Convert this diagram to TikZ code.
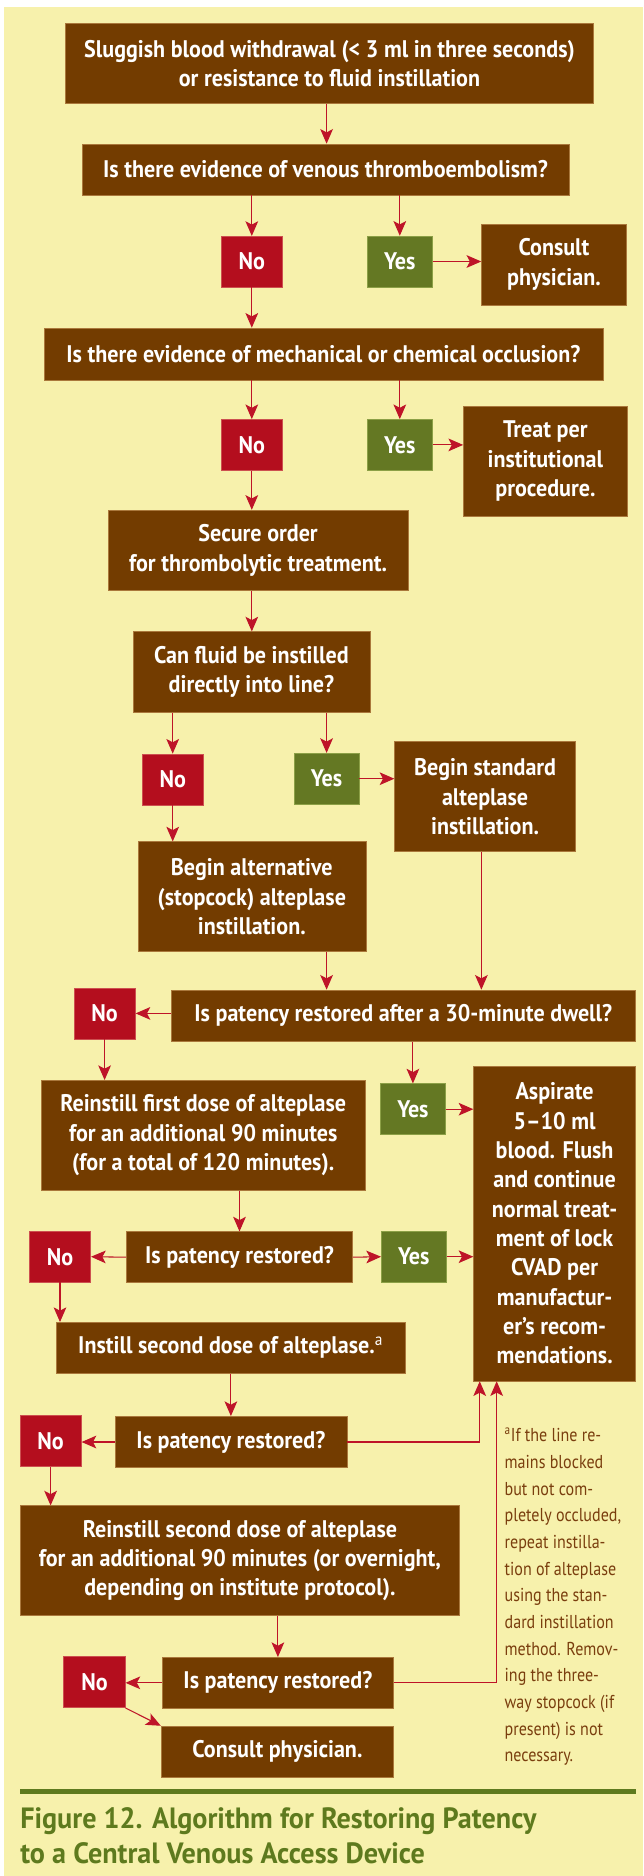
\documentclass[tikz,border=0pt]{standalone}
\usepackage{fontspec}
\setmainfont{PT Sans}[FakeStretch=0.86]
\newfontfamily\boxfam{PT Sans}[FakeStretch=0.92,Ligatures=TeX]
\newfontfamily\capfam{PT Sans}[FakeStretch=0.96,Ligatures=TeX]
\usetikzlibrary{arrows.meta,calc}
\definecolor{bgyellow}{RGB}{247,241,172}
\definecolor{brn}{RGB}{115,60,0}
\definecolor{brnedge}{RGB}{170,120,60}
\definecolor{nored}{RGB}{180,14,30}
\definecolor{rededge}{RGB}{205,80,80}
\definecolor{yesgreen}{RGB}{100,120,35}
\definecolor{greenedge}{RGB}{140,160,70}
\definecolor{arrred}{RGB}{190,20,40}
\definecolor{notebrown}{RGB}{122,62,14}
\definecolor{capgreen}{RGB}{94,122,30}
\newcommand\bxfont{\boxfam\bfseries\fontsize{18}{22}\selectfont}
\newcommand\ntfont{\fontsize{14}{20}\selectfont}
\newcommand\cpfont{\capfam\bfseries\fontsize{22}{26}\selectfont}
\begin{document}
\begin{tikzpicture}[x=0.75pt,y=-0.75pt,
  sz/.style 2 args={minimum width=#1*0.75pt, minimum height=#2*0.75pt},
  box/.style={fill=brn, draw=brnedge, line width=0.4pt, text=white, font=\bxfont, align=center, inner sep=0pt},
  nobox/.style={box, fill=nored, draw=rededge, sz={61.5}{51}},
  yesbox/.style={box, fill=yesgreen, draw=greenedge, sz={65}{51}},
  arr/.style={draw=arrred, line width=0.8pt, -{Stealth[length=11pt, width=9.5pt, inset=2.5pt]}},
  notetext/.style={anchor=base west, inner sep=0pt, text=notebrown, font=\ntfont},
  captext/.style={anchor=base west, inner sep=0pt, text=capgreen, font=\cpfont}]
\useasboundingbox (0,0) rectangle (643,1876);
\fill[white] (0,0) rectangle (643,1876);
\fill[bgyellow] (4,7) rectangle (643,1876);

% nodes
\node[box, sz={528}{80}] (top) at (329.5,63.3) {Sluggish blood withdrawal (< 3 ml in three seconds)\\or resistance to fluid instillation};
\node[box, sz={487}{51}] (venous) at (325.5,169.5) {Is there evidence of venous thromboembolism?};
\node[nobox] (no1) at (251.8,261.7) {No};
\node[yesbox] (yes1) at (399.8,261.5) {Yes};
\node[box, sz={145}{81}] (consult1) at (554,264.5) {Consult\\physician.};
\node[box, sz={559}{52}] (mech) at (323.4,354) {Is there evidence of mechanical or chemical occlusion?};
\node[nobox] (no2) at (251.8,444.9) {No};
\node[yesbox] (yes2) at (399.8,444.9) {Yes};
\node[box, sz={164}{110}] (treat) at (545.4,461) {Treat per\\institutional\\procedure.};
\node[box, sz={300.6}{80.7}] (secure) at (258.1,550.4) {Secure order\\for thrombolytic treatment.};
\node[box, sz={237}{81}] (can) at (251.4,672.2) {Can fluid be instilled\\directly into line?};
\node[nobox] (no3) at (172.7,779.4) {No};
\node[yesbox] (yes3) at (326.6,778.7) {Yes};
\node[box, sz={181}{110}] (standard) at (485.1,796.7) {Begin standard\\alteplase\\instillation.};
\node[box, sz={228}{110}] (alt) at (251.8,896.7) {Begin alternative\\(stopcock) alteplase\\instillation.};
\node[box, sz={464.6}{51.7}] (pat30) at (403.3,1015.8) {Is patency restored after a 30-minute dwell?};
\node[nobox] (no4) at (104.6,1013.4) {No};
\node[yesbox] (yes4) at (412.9,1109.2) {Yes};
\node[box, sz={162}{315}] (asp) at (554.6,1223.5) {Aspirate\\5–10 ml\\blood. Flush\\and continue\\normal treat-\\ment of lock\\CVAD per\\manufactur-\\er’s recom-\\mendations.};
\node[box, sz={323.6}{110}] (rein1) at (203.2,1135.3) {Reinstill first dose of alteplase\\for an additional 90 minutes\\(for a total of 120 minutes).};
\node[box, sz={226.4}{51}] (pat1) at (239.5,1257.2) {Is patency restored?};
\node[nobox] (no5) at (60,1256.7) {No};
\node[yesbox] (yes5) at (413.8,1256.7) {Yes};
\node[box, sz={349}{51}] (inst2) at (230.7,1347.8) {Instill second dose of alteplase.\textsuperscript{\mdseries a}};
\node[box, sz={232}{51.4}] (pat2) at (230.9,1442) {Is patency restored?};
\node[nobox] (no6) at (50.6,1441) {No};
\node[box, sz={439.7}{110}] (rein2) at (239.9,1560.7) {Reinstill second dose of alteplase\\for an additional 90 minutes (or overnight,\\depending on institute protocol).};
\node[box, sz={231.7}{51}] (pat3) at (277.9,1682.8) {Is patency restored?};
\node[nobox] (no7) at (94.5,1682.2) {No};
\node[box, sz={232.7}{51}] (consult2) at (277.4,1751.5) {Consult physician.};

% connectors
\draw[arr] (top.south -| yes3) -- (venous.north -| yes3);
\draw[arr] (venous.south -| no1) -- (no1.north);
\draw[arr] (venous.south -| yes1) -- (yes1.north);
\draw[arr] (yes1.east) -- (yes1.east -| consult1.west);
\draw[arr] (no1.south) -- (no1.south |- mech.north);
\draw[arr] (mech.south -| no2) -- (no2.north);
\draw[arr] (mech.south -| yes2) -- (yes2.north);
\draw[arr] (yes2.east) -- (yes2.east -| treat.west);
\draw[arr] (no2.south) -- (no2.south |- secure.north);
\draw[arr] (secure.south -| no2) -- (can.north -| no2);
\draw[arr] (can.south -| no3) -- (no3.north);
\draw[arr] (can.south -| yes3) -- (yes3.north);
\draw[arr] (yes3.east) -- (yes3.east -| standard.west);
\draw[arr] (no3.south) -- (no3.south |- alt.north);
\draw[arr] (alt.south -| yes3) -- (pat30.north -| yes3);
\draw[arr] ([xshift=-2.8pt]standard.south) -- ([xshift=-2.8pt]standard.south |- pat30.north);
\draw[arr] (pat30.west |- no4) -- (no4.east);
\draw[arr] (no4.south) -- (no4.south |- rein1.north);
\draw[arr] (pat30.south -| yes4) -- (yes4.north);
\draw[arr] (yes4.east) -- (yes4.east -| asp.west);
\draw[arr] (rein1.south -| pat1) -- (pat1.north);
\draw[arr] (pat1.west) -- (no5.east);
\draw[arr] (pat1.east) -- (yes5.west);
\draw[arr] (yes5.east) -- (yes5.east -| asp.west);
\draw[arr] (no5.south) -- (no5.south |- inst2.north);
\draw[arr] (inst2.south -| pat2) -- (pat2.north);
\draw[arr] (pat2.west) -- (pat2.west -| no6.east);
\draw[arr] (pat2.east) -| ([xshift=4.8pt]asp.south west);
\draw[arr] (no6.south) -- (no6.south |- rein2.north);
\draw[arr] (rein2.south -| pat3) -- (pat3.north);
\draw[arr] (pat3.west) -- (pat3.west -| no7.east);
\draw[arr] (pat3.east) -| ([xshift=17.5pt]asp.south west);
\draw[arr] (no7.south east) -- (consult2.north west);

% footnote
\foreach \t [count=\i from 0] in {{\textsuperscript{a}If the line re-},{mains blocked},{but not com-},{pletely occluded,},{repeat instilla-},{tion of alteplase},{using the stan-},{dard instillation},{method. Remov-},{ing the three-},{way stopcock (if},{present) is not},{necessary.}}
  \node[notetext] (fn\i) at (504.4,1441.7+26.67*\i) {\t};

% rule and caption
\draw[capgreen, line width=3.5pt] (20,1791.7) -- (635.6,1791.7);
\node[captext] (cap1) at (20,1828) {Figure 12. Algorithm for Restoring Patency};
\node[captext] (cap2) at (20,1863.3) {to a Central Venous Access Device};
\end{tikzpicture}
\end{document}
